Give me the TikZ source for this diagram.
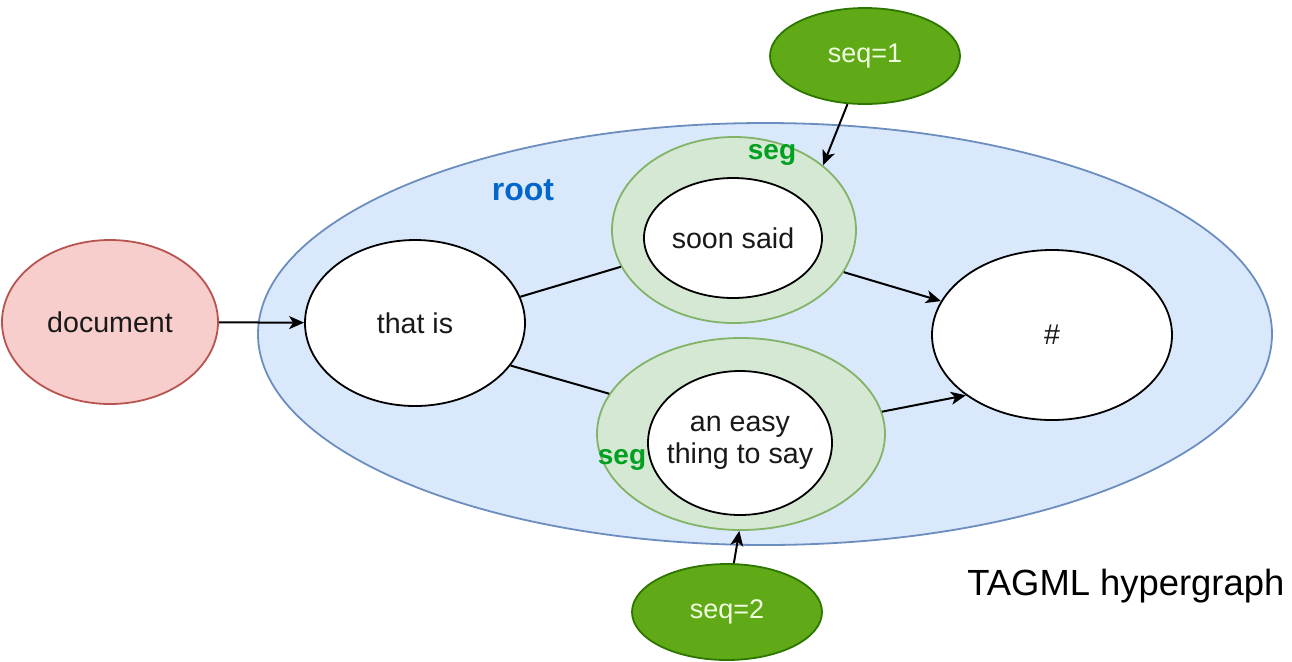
\documentclass[tikz,border=0pt]{standalone}
\usepackage{fontspec}
\setmainfont{Liberation Sans}
\usetikzlibrary{shapes.geometric,arrows.meta}
\definecolor{rootfill}{HTML}{DAE8FC}
\definecolor{rootline}{HTML}{6C8EBF}
\definecolor{docfill}{HTML}{F8CECC}
\definecolor{docline}{HTML}{B85450}
\definecolor{segfill}{HTML}{D5E8D4}
\definecolor{segline}{HTML}{82B366}
\definecolor{seqfill}{HTML}{60A917}
\definecolor{seqline}{HTML}{2D7600}
\definecolor{seqtext}{HTML}{F0FFE0}
\definecolor{segtext}{HTML}{00A020}
\definecolor{roottext}{HTML}{0066CC}
\begin{document}
\begin{tikzpicture}[x=0.5pt,y=-0.5pt,
  ell/.style={ellipse, inner sep=0pt, line width=0.9pt},
  txt/.style={font=\fontsize{14.3}{16}\selectfont, text=black!90},
  plain/.style={ell, draw=black, fill=white, txt},
  rootstyle/.style={ell, draw=rootline, fill=rootfill},
  docstyle/.style={ell, draw=docline, fill=docfill, txt},
  segstyle/.style={ell, draw=segline, fill=segfill},
  seqstyle/.style={ell, draw=seqline, fill=seqfill, text=seqtext, font=\fontsize{13.5}{16}\selectfont},
  seglabel/.style={text=segtext, font=\bfseries\fontsize{14}{16}\selectfont, inner sep=0pt},
  conn/.style={line width=1pt, draw=black},
  arr/.style={conn, -{Stealth[length=7.5pt,width=6.5pt,inset=2pt]}}
]
\useasboundingbox (0,0) rectangle (1292,661);

\node[rootstyle, minimum width=507pt, minimum height=211pt] (root) at (765,334) {};
\node[text=roottext, font=\bfseries\fontsize{16}{18}\selectfont, inner sep=0pt] (rootlbl) at (523,190) {root};

\node[segstyle, minimum width=122pt, minimum height=93pt] (seg1) at (734,230) {};
\node[segstyle, minimum width=144pt, minimum height=96pt] (seg2) at (741,434) {};

\node[plain, minimum width=89pt, minimum height=60pt] (soon) at (733,238) {soon said};
\node[plain, minimum width=92pt, minimum height=72pt, align=center, inner xsep=-25pt, inner ysep=-15pt] (easy) at (740,443) {an easy\\thing to say};

\node[seglabel] (seg1lbl) at (772,155) {seg};
\node[seglabel] (seg2lbl) at (622,460) {seg};

\node[docstyle, minimum width=108pt, minimum height=82pt] (doc) at (110,322) {document};
\node[plain, minimum width=110pt, minimum height=83pt] (thatis) at (415,323) {that is};
\node[plain, minimum width=120pt, minimum height=85pt] (hash) at (1052,335) {\#};

\node[seqstyle, minimum width=95pt, minimum height=48pt] (seq1) at (865,56) {seq=1};
\node[seqstyle, minimum width=95pt, minimum height=48pt] (seq2) at (727,612) {seq=2};

\node[anchor=base west, inner sep=0pt, font=\fontsize{18.2}{20}\selectfont] (caption) at (967,595) {TAGML hypergraph};

\draw[arr] (doc) -- (thatis);
\draw[conn] (thatis.14) -- (seg1.198);
\draw[conn] (thatis.-24) -- (seg2.163);
\draw[arr] (seg1.-21) -- (hash.163);
\draw[arr] (seg2.9) -- (hash.215);
\draw[arr] (seq1.250) -- (seg1.36);
\draw[arr] (seq2.82) -- (seg2.269);
\end{tikzpicture}
\end{document}
